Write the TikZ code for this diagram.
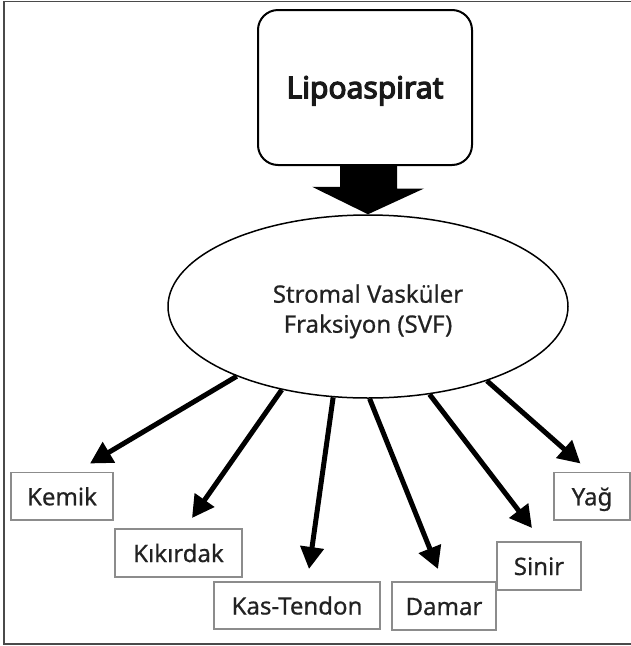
\documentclass[tikz,border=0pt]{standalone}
\usepackage{fontspec}
\setmainfont{Noto Sans}[FakeBold=0.6]
\newfontfamily\lipofont{Noto Sans}[FakeBold=4]
\usetikzlibrary{arrows.meta,shapes.geometric,calc}
\definecolor{frameC}{HTML}{4A4A4A}
\definecolor{boxC}{HTML}{8C8C8C}
\definecolor{txtC}{HTML}{222222}
\begin{document}
\begin{tikzpicture}[x=1pt,y=-1pt,
  lipobox/.style={draw=black, line width=2pt, rounded corners=20pt, minimum width=214pt, minimum height=155pt, inner sep=0pt, font=\lipofont\fontsize{30}{34}\selectfont, text=black!90, text height=21.4pt, text depth=0pt},
  svfell/.style={ellipse, draw=black, line width=1.5pt, minimum width=400pt, minimum height=183pt, inner sep=0pt, align=center, font=\fontsize{24}{30}\selectfont, text=txtC},
  outbox/.style={draw=boxC, line width=1.3pt, inner sep=0pt, font=\fontsize{24}{30}\selectfont, text=txtC, text height=18pt, text depth=0pt},
  thickarrow/.style={line width=5pt, -{Triangle[length=22pt,width=23pt]}}
]
\useasboundingbox (0,0) rectangle (630,646);
% outer frame
\draw[frameC, line width=1.5pt] (634,1.7) -- (4,1.7) -- (4,644) -- (634,644);

% nodes
\node[lipobox] (lipo) at (365,87.5) {Lipoaspirat};
\node[svfell] (svf) at (368,306.5) {\rule{0pt}{30.4pt}Stromal Vasküler\\Fraksiyon (SVF)\rule[-8pt]{0pt}{8pt}};

\node[outbox, minimum width=102pt, minimum height=47.4pt] (kemik) at (62,496.3) {Kemik};
\node[outbox, minimum width=127pt, minimum height=48pt] (kikirdak) at (178.5,553) {Kıkırdak};
\node[outbox, minimum width=166pt, minimum height=47pt] (kas) at (297,605.5) {Kas-Tendon};
\node[outbox, minimum width=104pt, minimum height=48pt] (damar) at (444,606) {Damar};
\node[outbox, minimum width=84pt, minimum height=48pt] (sinir) at (539,566) {Sinir};
\node[outbox, minimum width=76pt, minimum height=47.4pt] (yag) at (592,496.3) {Yağ};

% big arrow from Lipoaspirat to SVF
\fill[black] (lipo.south) ++(-25,0) coordinate (s1) -- ++(57,0) -- ++(0,22.5) -- ++(27,0)
  -- (svf.north) -- ++(-56,-27.5) -- ++(28,0) -- (s1) -- cycle;

% arrow tips
\coordinate (tKemik) at (90,463.5);
\coordinate (tKikirdak) at (192,518);
\coordinate (tKas) at (309,569);
\coordinate (tDamar) at (438,569);
\coordinate (tSinir) at (532,528);
\coordinate (tYag) at (580.5,463.5);

\draw[thickarrow] (svf.208.8) -- (tKemik);
\draw[thickarrow] (svf.224.7) -- (tKikirdak);
\draw[thickarrow] (svf.249.4) -- (tKas);
\draw[thickarrow] (svf.271.2) -- (tDamar);
\draw[thickarrow] (svf.305.7) -- (tSinir);
\draw[thickarrow] (svf.328.8) -- (tYag);
\end{tikzpicture}
\end{document}
